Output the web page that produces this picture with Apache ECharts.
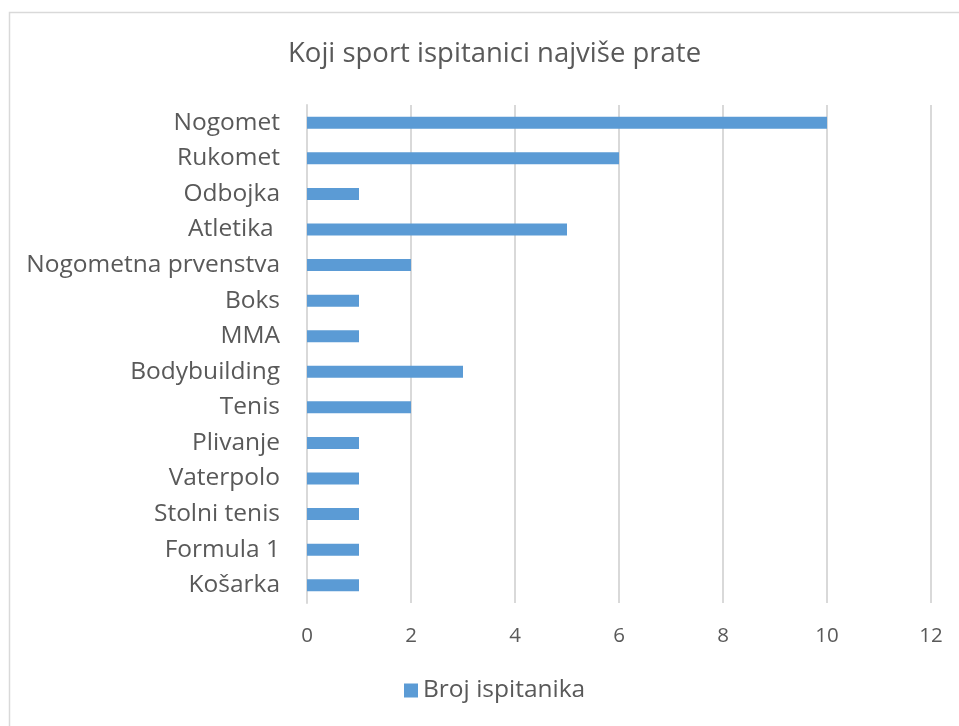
<!DOCTYPE html>
<html><head><meta charset="utf-8">
<script src="https://cdn.jsdelivr.net/npm/echarts@6/dist/echarts.min.js"></script>
<style>html,body{margin:0;padding:0;background:#fff}#c{width:959px;height:726px}</style>
</head><body><div id="c"></div>
<script>
const categories = ["Nogomet","Rukomet","Odbojka","Atletika ","Nogometna prvenstva","Boks","MMA","Bodybuilding","Tenis","Plivanje","Vaterpolo","Stolni tenis","Formula 1","Košarka"];
const values = [10,6,1,5,2,1,1,3,2,1,1,1,1,1];
const seriesName = "Broj ispitanika";
const titleText = "Koji sport ispitanici najviše prate";

const FONT = "'Open Sans', sans-serif";
const chart = echarts.init(document.getElementById('c'), null, {renderer:'canvas'});
chart.setOption({
  backgroundColor:'#fff',
  animation:false,
  graphic:[{type:'rect',shape:{x:9.5,y:12.5,width:960,height:720},style:{fill:'none',stroke:'#D9D9D9',lineWidth:1.5},silent:true}],
  title:{text:titleText,left:283,top:35,textStyle:{fontFamily:FONT,fontSize:27.5,fontWeight:'normal',color:'#595959'}},
  legend:{data:[seriesName],bottom:18,left:399,icon:'rect',itemWidth:14,itemHeight:14,itemGap:7,
    textStyle:{fontFamily:FONT,fontSize:24.5,color:'#595959'}},
  grid:{left:307,right:28,top:105,bottom:123,containLabel:false},
  xAxis:{type:'value',min:0,max:12,interval:2,
    axisLine:{show:false},axisTick:{show:false},
    axisLabel:{fontFamily:FONT,fontSize:20.5,color:'#595959',margin:23},
    splitLine:{lineStyle:{color:'#D9D9D9',width:2}}},
  yAxis:{type:'category',data:categories,inverse:true,
    axisLine:{show:true,lineStyle:{color:'#D9D9D9',width:2}},axisTick:{show:false},
    axisLabel:{fontFamily:FONT,fontSize:24.5,color:'#595959',margin:27}},
  series:[{name:seriesName,type:'bar',data:values,barWidth:12,itemStyle:{color:'#5B9BD5'}}]
});
</script></body></html>
